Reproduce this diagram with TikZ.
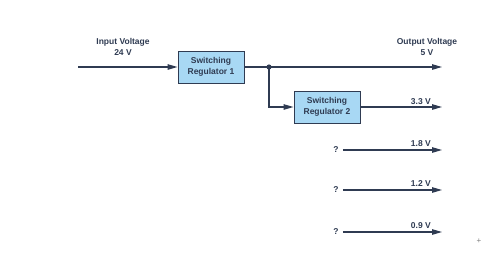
\documentclass[tikz,border=0pt]{standalone}
\usepackage{fontspec}
\setmainfont{Liberation Sans}
\usetikzlibrary{arrows.meta,positioning}
\definecolor{RegLine}{HTML}{2F3B52}
\definecolor{RegFill}{HTML}{A8D8F4}
\definecolor{RegText}{HTML}{2F3B52}
\begin{document}
\begin{tikzpicture}[x=1pt,y=-1pt,>={Triangle[length=10pt,width=5.5pt]}]
  \tikzset{regbox/.style={draw=RegLine, fill=RegFill, line width=1pt, minimum width=66pt, minimum height=32pt, align=center, font=\fontsize{8.5}{11}\selectfont\bfseries, text=RegText, inner sep=0pt}}
  \tikzset{vlabel/.style={font=\fontsize{8.5}{11}\selectfont\bfseries, text=RegText, align=center, inner sep=0pt}}
  \tikzset{wire/.style={line width=1.1pt, color=RegLine}}
  \useasboundingbox (0,0) rectangle (482,255);
  \node[regbox] (reg1) at (211,67) {Switching\\Regulator 1};
  \node[regbox] (reg2) at (327,107) {Switching\\Regulator 2};
  \coordinate (vin) at (78,67);
  \coordinate (tap) at (269,67);
  \coordinate (out5) at (442,67);
  \coordinate (out33) at (442,107);
  \node[vlabel] (inlbl) at (123,47) {Input Voltage\\24 V};
  \node[vlabel] (outlbl) at (427,47) {Output Voltage\\5 V};
  \node[vlabel, anchor=base east] (v33) at (431,104) {3.3 V};
  \foreach \name/\y/\volt in {q18/150/1.8 V,q12/190/1.2 V,q09/232/0.9 V}{
    \node[vlabel] (\name) at (336,\y) {?};
    \coordinate (\name end) at (442,\y);
    \node[vlabel, anchor=base east] at (431,\y-4) {\volt};
    \draw[wire,->] ([xshift=4pt]\name.east) -- (\name end);
  }
  \draw[wire,->] (vin) -- (reg1);
  \draw[wire,->] (reg1) -- (out5);
  \draw[wire,->] (tap) |- (reg2);
  \draw[wire,->] (reg2) -- (out33);
  \fill[RegLine] (tap) circle (2.6pt);
  \node[font=\fontsize{8}{8}\selectfont, text=gray, inner sep=0pt] (mark) at (479,241) {+};
\end{tikzpicture}
\end{document}
